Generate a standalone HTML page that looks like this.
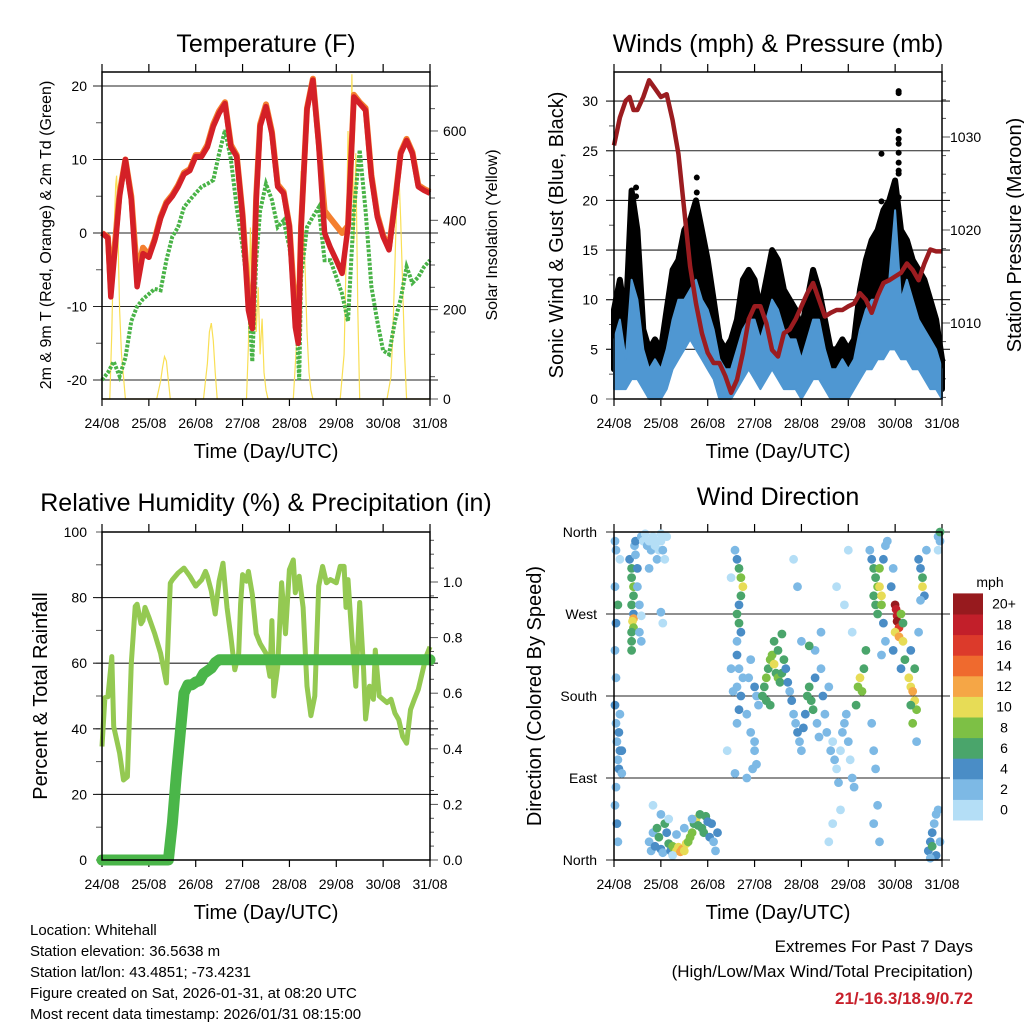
<!DOCTYPE html>
<html><head><meta charset="utf-8">
<style>
html,body{margin:0;padding:0;background:#fff;}
svg{display:block;font-family:"Liberation Sans",sans-serif;}
</style></head>
<body>
<svg id="root" width="1024" height="1024" viewBox="0 0 1024 1024" xmlns="http://www.w3.org/2000/svg">
<rect x="0" y="0" width="1024" height="1024" fill="#fff"/>
<g id="layers"></g>
<!-- titles -->
<text x="266" y="52" font-size="25" text-anchor="middle">Temperature (F)</text>
<text x="778" y="52" font-size="25" text-anchor="middle">Winds (mph) &amp; Pressure (mb)</text>
<text x="266" y="511" font-size="25" text-anchor="middle">Relative Humidity (%) &amp; Precipitation (in)</text>
<text x="778" y="505" font-size="25" text-anchor="middle">Wind Direction</text>
<!-- x titles -->
<text x="266" y="458" font-size="20" text-anchor="middle">Time (Day/UTC)</text>
<text x="778" y="458" font-size="20" text-anchor="middle">Time (Day/UTC)</text>
<text x="266" y="919" font-size="20" text-anchor="middle">Time (Day/UTC)</text>
<text x="778" y="919" font-size="20" text-anchor="middle">Time (Day/UTC)</text>
<!-- y titles -->
<text transform="translate(51,235) rotate(-90)" font-size="16" text-anchor="middle">2m &amp; 9m T (Red, Orange) &amp; 2m Td (Green)</text>
<text transform="translate(497,235) rotate(-90)" font-size="16" text-anchor="middle">Solar Insolation (Yellow)</text>
<text transform="translate(563,235) rotate(-90)" font-size="20" text-anchor="middle">Sonic Wind &amp; Gust (Blue, Black)</text>
<text transform="translate(1021,235) rotate(-90)" font-size="20" text-anchor="middle">Station Pressure (Maroon)</text>
<text transform="translate(47,696) rotate(-90)" font-size="20" text-anchor="middle">Percent &amp; Total Rainfall</text>
<text transform="translate(541,696) rotate(-90)" font-size="20" text-anchor="middle">Direction (Colored By Speed)</text>
<!-- footer -->
<g font-size="15">
<text x="30" y="935">Location: Whitehall</text>
<text x="30" y="956">Station elevation: 36.5638 m</text>
<text x="30" y="977">Station lat/lon: 43.4851; -73.4231</text>
<text x="30" y="998">Figure created on Sat, 2026-01-31, at 08:20 UTC</text>
<text x="30" y="1019">Most recent data timestamp: 2026/01/31 08:15:00</text>
</g>
<text x="973" y="952" font-size="17" text-anchor="end">Extremes For Past 7 Days</text>
<text x="973" y="977" font-size="17" text-anchor="end">(High/Low/Max Wind/Total Precipitation)</text>
<text x="973" y="1004" font-size="17" font-weight="bold" fill="#c8202b" text-anchor="end">21/-16.3/18.9/0.72</text>
<text x="990" y="587" font-size="14" text-anchor="middle">mph</text>
</svg>
<script>
// ---------- DATA ----------
const dayLabels = ["24/08","25/08","26/08","27/08","28/08","29/08","30/08","31/08"];
const tempHours = [0,3,4.5,9,12,15,18,21,24,27,30,33,36,39,42,45,48,51,54,57,60,63,66,69,72,75,77,79,81,84,87,90,93,96,99,100.5,102,105,108,111,114,117,120,123,126,129,132,135,138,141,144,147,150,153,156,159,162,165,168];
const tempRed = [0,-0.7,-8.7,5,10,4.5,-7.3,-2.8,-3.3,-1,2,4,5,6.3,8,8.5,10.4,10.4,11.7,14.5,16.3,17.6,11.7,10.4,2.2,-10.5,-13,4.5,14.5,17.2,13.5,6.3,5.4,0.8,-12.8,-15,0.8,16.8,20.8,12,0,-2,-3.7,-5.5,0.8,18.5,17.6,16.7,7.6,2.2,-0.5,-2.3,4,10.8,12.6,10.8,6.3,5.8,5.4];
const tempOrange = [0,-0.5,-7.5,5.5,10,5,-5.5,-2,-3,-0.8,2.2,4.2,5.2,6.5,8.2,8.7,10.6,10.6,12,14.8,16.6,17.8,12,10.6,2.5,-9,-12,5,14.8,17.5,13.8,6.6,5.6,1,-11,-14,1,17,21,12.3,3,2,1,0,1,18.8,17.8,17,7.9,2.5,-0.3,-2,4.2,11,12.8,11,6.5,6,5.6];
const dewHours = [0,3,6,9,12,15,18,21,24,27,30,33,36,39,42,45,48,51,54,57,60,63,66,69,72,75,77,79,81,84,87,90,93,96,99,101,102,105,108,111,114,117,120,123,126,129,132,135,138,141,144,147,150,153,156,159,162,165,168];
const dewPoint = [-20,-19,-17.5,-19.5,-17,-12,-10,-9,-8.3,-7.6,-7.8,-3.7,-0.5,0.8,3.5,4.5,5.4,6.3,6.7,7.2,10.8,14,10,3.5,-1.9,-8.3,-17.5,-3.7,3,6.7,4.5,0.8,1.7,-1.9,-8.3,-20,-6,0.8,2.2,3.5,-3.7,-3.7,-6,-8.3,-12,3,11.3,3,-7.3,-12,-16,-16.5,-12,-9,-4.6,-6.8,-6,-4.6,-3.7];
const solarHours = [0,4,5,6,7,7.5,8,8.5,9,10,11,12,13,28,30,31,32,33,34,35,52,54,55,56,57,58,59,74,75,76,77,78,79,80,81,82,83,84,85,98,100,101,102,103,104,105,106,107,108,122,124,125,126,127,128,129,130,131,132,146,148,149,150,151,152,153,154,155,156,168];
const solarValues = [0,0,150,350,480,500,440,300,200,100,50,0,0,0,40,70,95,85,40,0,0,80,150,170,130,60,0,0,120,384,200,300,150,250,100,180,60,20,0,0,150,350,510,400,300,150,60,20,0,0,100,300,600,400,727,350,550,200,0,0,50,150,300,450,510,400,250,100,0,0];

const windHours = [0,3,6,9,12,15,18,21,24,27,30,33,36,39,42,45,48,51,54,57,60,63,66,69,72,75,78,81,84,87,90,93,96,99,102,105,108,111,114,117,120,123,126,129,132,135,138,141,144,147,150,153,156,159,162,165,168];
const windLow  = [1,1,1,2,2,1,0,0,0,1,3,4,5,6,5,4,3,2,0,0,0,1,2,3,2,1,2,3,2,1,1,1,0,1,2,2,1,0,0,0,0,1,2,3,3,4,4,5,5,4,4,3,3,2,1,1,0];
const windHigh = [6,8,4,12,10,5,3,4,3,5,8,10,10,11,12,10,9,7,4,3,3,5,7,8,8,6,8,10,9,7,6,6,4,6,8,8,5,3,3,4,3,4,7,9,10,10,11,12,19,10,12,10,8,7,6,5,3];
const gustLow  = [3,4,3,5,5,2,2,2,1,3,6,8,9,12,12,9,7,4,1,1,1,3,5,7,4,3,5,7,5,3,3,3,2,3,5,5,3,2,2,2,1,2,5,7,7,9,9,10,11,9,9,7,6,5,4,3,1];
const gustHigh = [9,12,8,21,17,7,5,6,5,9,13,14,17,18,20,17,14,10,6,5,6,8,12,13,12,9,12,15,14,11,10,9,7,10,13,11,8,5,5,6,5,6,11,14,16,17,19,20,22,17,16,14,13,12,10,8,4];
const gustOutlierHours = [11.3,11.3,42.4,42.4,137,137,145.8,145.8,145.8,145.8,145.8,145.8,145.8,145.8,145.8,145.8];
const gustOutlierValues = [21.3,20.4,22.3,20.8,24.7,19.9,31,30.8,27,26.2,25.7,24.8,23.8,23,22.7,20.3];
const pressHours = [0,3,6,8,10,12,15,18,21,24,27,30,33,36,39,42,45,48,51,54,57,60,63,66,69,72,75,78,81,84,87,90,93,96,99,102,105,108,111,114,117,120,123,126,129,132,135,138,141,144,147,150,153,156,159,162,165,168];
const pressure = [1029.1,1032.1,1033.9,1034.3,1032.9,1032.9,1034.3,1036.1,1035.2,1034.3,1034.6,1031.8,1028.2,1022.1,1016.1,1012.1,1008.9,1006.8,1005.7,1005.7,1004.3,1002.5,1003.9,1006.8,1010.4,1011.8,1011.8,1010,1007.1,1006.4,1008.9,1009.3,1010.4,1011.8,1013.2,1014.3,1012.5,1010.7,1011.1,1011.4,1011.4,1011.8,1012.1,1013.2,1012.5,1011.1,1012.9,1014.3,1014.6,1015,1015.4,1016.4,1015.7,1014.6,1016.4,1017.9,1017.7,1017.7];

const rhHours = [0,1.5,3,5,6,9,11,13,15,17,18,20,21,22,24,27,30,33,35,36,39,42,45,48,51,53,54,56,58,60,62,64,66,68,70,71,72,74,75,77,79,81,84,86,87,88,90,92,94,96,98,99,101,103,105,107,109,111,113,115,117,120,122,124,125,126,128,130,132,134,135,137,139,140,142,144,146,148,150,152,154,156,158,160,162,164,166,168];
const rhValues = [34.6,49.5,49.8,62,40.7,32.6,24.4,25.4,60,77.3,78,72,73,77,74,69,63,54,84.4,85.4,87.5,89,86.5,83.5,85.4,88,86.5,82,75,85,90.5,77,68,58,63,78,87,85,88,81,69,66,63,56,73,50,59,84.5,69,88.5,91.5,81.5,86.5,77,53,44,50,83.5,89.5,84.5,85.5,84.5,89.5,89.5,77,85.5,68,53,78.5,58,43,53,49,64,50,49,48,49,44.8,42.7,37.6,35.6,45.8,49,52,57,62,65];
const rainHours = [0,34,36,38,40,42,44,46,48,50,52,54,56,58,60,168];
const rainValues = [0,0,0.13,0.3,0.45,0.6,0.63,0.63,0.64,0.645,0.67,0.68,0.69,0.71,0.72,0.72];

const dirHours = [0.5,0.5,1,0.5,1,0.5,1,1.5,2,2.5,3,1,0.5,1.5,2,1,3,2.5,4,4,3,2,
8,9,9,10,10,9,10,10,9.5,10,9,9,9,10.5,11,12,12,13,13,14,11,
14,15,16,17,18,19,20,21,22,23,24,25,26,22,24,27,18,14,25,24,
18,19,20,21,22,23,24,25,26,27,28,29,30,31,32,33,34,35,36,37,38,39,40,41,42,43,44,45,46,47,48,49,50,51,52,53,28,32,36,40,24,20,30,
62,63,64,65,66,65,64,63,64,65,63,63,64,63,65,64,63,60,61,66,58,62,60,
68,70,72,71,73,69,70,72,73,74,68,72,
76,77,78,79,80,81,82,83,84,85,86,87,88,89,90,91,80,78,84,82,86,
92,93,94,95,96,97,98,99,100,101,102,103,104,105,106,107,108,109,110,111,103,100,96,92,94,106,
112,113,114,115,116,117,118,119,120,121,122,123,124,125,126,127,128,129,122,118,114,120,110,112,116,
131,132,133,134,135,133,134,135,136,136,137,137,138,139,140,138,139,137,132,133,134,135,133,136,
144,144.5,145,145,146,144,146,147,148,148,149,143,147,142,143,
151,152,153,154,155,152,153,154,152,155,
156,157,158,158,159,157,160,156,
161,162,163,164,165,166,167,165,163,162,166,167,166,167];
const dirDegrees = [350,300,260,230,200,170,150,130,110,100,120,80,60,40,20,340,160,140,120,95,330,280,
330,320,310,300,290,280,270,265,262,255,250,240,230,345,335,320,300,280,250,240,350,
355,350,358,345,350,340,355,345,330,340,350,340,330,350,358,355,320,268,260,272,
20,10,30,15,35,25,12,8,40,30,18,10,15,12,10,14,9,12,10,18,20,25,30,40,45,38,50,35,30,48,42,25,40,20,10,30,45,28,35,45,50,60,5,
340,330,320,310,300,290,280,270,260,250,240,225,210,190,180,165,150,210,185,200,120,95,310,
160,140,120,100,105,200,220,190,180,170,90,130,
180,190,200,210,220,225,215,205,200,195,205,220,210,195,185,175,170,175,230,240,248,
160,150,140,130,120,145,160,180,190,175,165,200,150,135,210,180,160,140,190,120,230,235,240,330,300,250,
130,110,100,85,120,140,150,160,130,110,90,80,170,190,200,185,210,230,250,280,300,340,20,40,55,
340,330,320,310,300,290,280,270,320,300,290,280,330,345,350,260,240,225,150,120,100,60,40,20,
280,275,268,262,255,250,245,270,260,240,220,230,210,300,320,
200,190,185,175,165,170,150,210,230,130,
330,320,310,300,290,285,340,250,
10,20,30,40,50,55,20,5,15,2,355,350,340,360];
const dirSpeeds = [2,3,4,2,3,4,3,2,3,4,4,3,2,5,3,2,3,4,4,2,1,6,
4,6,7,8,7,6,5,12,10,9,7,6,6,3,2,4,3,2,2,3,5,
2,1,1,2,1,2,1,1,2,1,1,2,1,0,1,0,2,1,1,2,
2,2,3,4,6,6,5,2,6,5,6,4,8,9,10,11,12,12,11,10,9,8,8,7,10,7,7,6,6,7,5,4,4,3,3,4,1,2,2,3,2,1,1,
3,5,6,8,10,6,5,6,7,4,3,4,3,3,4,4,2,3,3,3,1,2,1,
3,3,3,2,2,3,3,4,3,2,3,2,
6,7,8,7,9,8,10,7,9,6,7,6,5,4,3,4,7,6,7,7,7,
3,3,4,3,2,4,5,6,7,6,6,4,3,2,3,4,3,2,3,2,3,7,2,1,2,2,
1,2,1,2,1,2,3,2,2,1,2,2,6,8,10,8,7,6,1,1,1,1,1,1,1,
3,5,6,7,8,6,7,6,9,10,10,9,5,3,2,4,3,2,3,3,3,3,3,2,
20,18,18,20,16,10,12,8,7,10,6,4,4,4,3,
10,11,12,10,9,6,8,6,4,3,
4,5,6,10,5,3,3,2,
5,4,4,3,3,2,3,4,6,3,2,2,1,6];
const speedBinLabels = ["0","2","4","6","8","10","12","14","16","18","20+"];
const speedColors = ["#b4def6","#7db9e5","#4a8dc6","#4aa56b","#7dc045","#e7dc56","#f5a646","#ef6a2e","#dc3a2b","#c21f2a","#971a1e"];

// ---------- DRAW ----------
const NS = "http://www.w3.org/2000/svg";
const layers = document.getElementById("layers");
function mk(tag, attrs, parent) {
  const el = document.createElementNS(NS, tag);
  for (const k in attrs) el.setAttribute(k, attrs[k]);
  (parent || layers).appendChild(el);
  return el;
}
function txt(s, x, y, size, anchor, parent) {
  const t = mk("text", {x: x, y: y, "font-size": size, "text-anchor": anchor}, parent);
  t.textContent = s;
  return t;
}
const L1 = 102, R1 = 430, L2 = 614, R2 = 942, T1 = 72, B1 = 399, T2 = 532, B2 = 860;
const pw = 328, H = 168;
const xA = h => L1 + h * pw / H;
const xB = h => L2 + h * pw / H;
const yT = v => 233 - v * 7.35;
const ySol = v => 399 - v * 0.4467;
const yW = v => 399 - v * 9.93;
const yP = p => 323 - (p - 1010) * 9.3;
const yRH = v => 860 - v * 3.28;
const yRain = r => 860 - r * 278;
const yDir = d => 860 - d * 328 / 360;

function pts(hs, vs, fx, fy) { return hs.map((h, i) => fx(h).toFixed(1) + "," + fy(vs[i]).toFixed(1)).join(" "); }

function frame(left, top, bottom, name) {
  const g = mk("g", {});
  
  
  for (let d = 0; d < dayLabels.length; d++) {
    const x = left + d * pw / 7;
    const t1 = mk("line", {x1: x, y1: top, x2: x, y2: top - 8, stroke: "#000", "stroke-width": 1.2}, g);
    
    
    const t2 = mk("line", {x1: x, y1: bottom, x2: x, y2: bottom + 7, stroke: "#000", "stroke-width": 1.2}, g);
    
    
    const lb = txt(dayLabels[d], x, bottom + 29, 14, "middle", g);
    
    
  }
  return g;
}
function border(left, top, bottom) {
  const r = mk("rect", {x: left, y: top, width: pw, height: bottom - top, fill: "none", stroke: "#000", "stroke-width": 1.5});
  
  
}
function hgrid(y, x1, x2) {
  const l = mk("line", {x1: x1, y1: y, x2: x2, y2: y, stroke: "#222", "stroke-width": 1.1});
  
  
}
function tick(x, y, len) {
  const l = mk("line", {x1: x, y1: y, x2: x + len, y2: y, stroke: "#555", "stroke-width": 1});
  
  
}
function ylab(s, x, y, anchor) {
  const t = txt(s, x, y + 5, 14, anchor);
  
  
}

// Panel 1: Temperature
frame(L1, T1, B1, "temperature");
for (let v = -20; v <= 20; v += 5) { tick(L1, yT(v), -6); }
[20, 10, 0, -10, -20].forEach(v => { hgrid(yT(v), 93, 438); ylab(String(v), 87, yT(v), "end"); });
for (let v = 0; v <= 700; v += 50) tick(R1, ySol(v), v % 200 === 0 ? 8 : 5);
[0, 200, 400, 600].forEach(v => ylab(String(v), 443, ySol(v), "start"));
const sol = mk("polyline", {points: pts(solarHours, solarValues, xA, ySol), fill: "none", stroke: "#f9df55", "stroke-width": 1.2});


const dew = mk("polyline", {points: pts(dewHours, dewPoint, xA, yT), fill: "none", stroke: "#49b347", "stroke-width": 4, "stroke-dasharray": "3 1.5"});


const ora = mk("polyline", {points: pts(tempHours, tempOrange, xA, yT), fill: "none", stroke: "#f47f2f", "stroke-width": 6, "stroke-linejoin": "round"});


const red = mk("polyline", {points: pts(tempHours, tempRed, xA, yT), fill: "none", stroke: "#d42027", "stroke-width": 5.5, "stroke-linejoin": "round"});


border(L1, T1, B1);

// Panel 2: Winds
frame(L2, T1, B1, "winds");
for (let v = 0; v <= 32; v += 2.5) tick(L2, yW(v), v % 5 === 0 ? -8 : -5);
[5, 10, 15, 20, 25, 30].forEach(v => hgrid(yW(v), 606, 950));
[0, 5, 10, 15, 20, 25, 30].forEach(v => ylab(String(v), 598, yW(v), "end"));
for (let p = 1002; p <= 1037; p += 2) tick(R2, yP(p), (p - 1010) % 10 === 0 ? 8 : 4);
[1010, 1020, 1030].forEach(p => ylab(String(p), 950, yP(p), "start"));
const gustPoly = windHours.map((h, i) => xB(h).toFixed(1) + "," + yW(gustHigh[i]).toFixed(1)).concat(windHours.slice().reverse().map((h, j) => { const i = windHours.length - 1 - j; return xB(h).toFixed(1) + "," + yW(gustLow[i]).toFixed(1); })).join(" ");
const gust = mk("polygon", {points: gustPoly, fill: "#000", stroke: "#000", "stroke-width": 6, "stroke-linejoin": "round"});


gustOutlierHours.forEach((h, i) => {
  const c = mk("circle", {cx: xB(h), cy: yW(gustOutlierValues[i]), r: 3, fill: "#000"});
  
  
});
const windPoly = windHours.map((h, i) => xB(h).toFixed(1) + "," + yW(windHigh[i]).toFixed(1)).concat(windHours.slice().reverse().map((h, j) => { const i = windHours.length - 1 - j; return xB(h).toFixed(1) + "," + yW(windLow[i]).toFixed(1); })).join(" ");
const wind = mk("polygon", {points: windPoly, fill: "#4f97d2", stroke: "#4f97d2", "stroke-width": 2, "stroke-linejoin": "round"});


const pr = mk("polyline", {points: pts(pressHours, pressure, xB, yP), fill: "none", stroke: "#9b1c20", "stroke-width": 4.5, "stroke-linejoin": "round"});


border(L2, T1, B1);

// Panel 3: RH & rain
frame(L1, T2, B2, "humidity");
for (let v = 0; v <= 100; v += 10) tick(L1, yRH(v), -6);
[20, 40, 60, 80].forEach(v => hgrid(yRH(v), 93, 438));
[0, 20, 40, 60, 80, 100].forEach(v => ylab(String(v), 87, yRH(v), "end"));
for (let r = 0; r <= 1.18; r += 0.05) tick(R1, yRain(r), Math.round(r * 100) % 20 === 0 ? 8 : 4);
[0, 0.2, 0.4, 0.6, 0.8, 1.0].forEach(r => ylab(r.toFixed(1), 443, yRain(r), "start"));
const rh = mk("polyline", {points: pts(rhHours, rhValues, xA, yRH), fill: "none", stroke: "#94c952", "stroke-width": 5, "stroke-linejoin": "round"});


const rain = mk("polyline", {points: pts(rainHours, rainValues, xA, yRain), fill: "none", stroke: "#4ab649", "stroke-width": 11, "stroke-linejoin": "round", "stroke-linecap": "round"});


border(L1, T2, B2);

// Panel 4: direction
frame(L2, T2, B2, "wind-direction");
[270, 180, 90].forEach(d => hgrid(yDir(d), 606, 950));
hgrid(yDir(360), 606, 950); hgrid(yDir(0), 606, 950);
[["North", 360], ["West", 270], ["South", 180], ["East", 90], ["North", 0]].forEach(a => ylab(a[0], 597, yDir(a[1]), "end"));
dirHours.forEach((h, i) => {
  const bin = Math.min(10, Math.floor(dirSpeeds[i] / 2));
  const c = mk("circle", {cx: xB(h).toFixed(1), cy: yDir(dirDegrees[i]).toFixed(1), r: 4.4, fill: speedColors[bin]});
  
  
});
border(L2, T2, B2);

// colorbar
const bh = 20.6;
speedColors.forEach((col, i) => {
  const y = 820 - (i + 1) * bh;
  const r = mk("rect", {x: 953, y: y.toFixed(1), width: 30, height: bh + 0.5, fill: col});
  
  
  const t = txt(speedBinLabels[i], 1004, y + bh / 2 + 5, 14, "middle");
  
  
});
</script>
</body></html>
